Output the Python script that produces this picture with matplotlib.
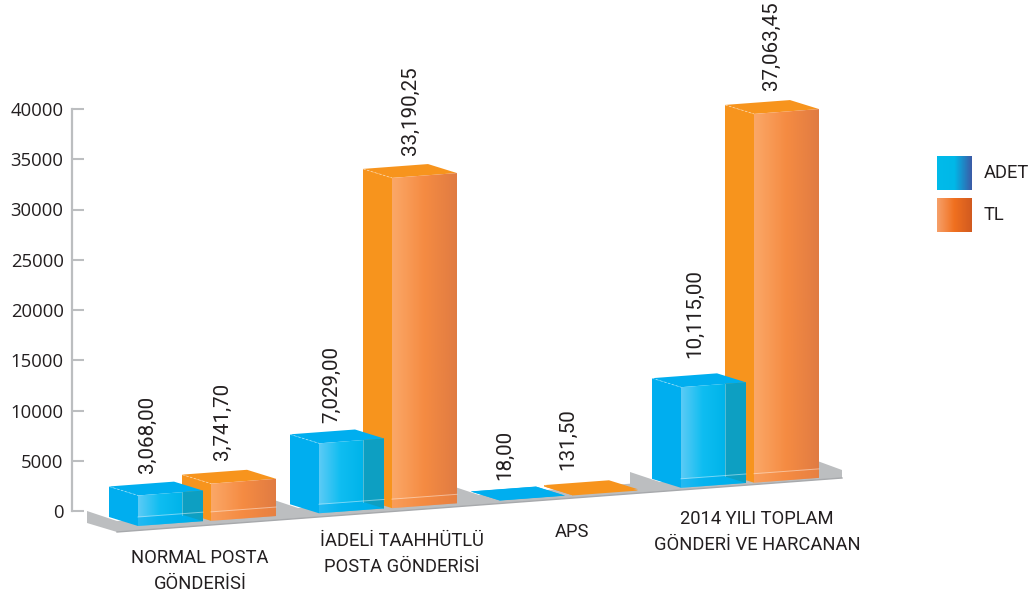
import numpy as np
import matplotlib
matplotlib.use("Agg")
import matplotlib.pyplot as plt
from matplotlib.colors import LinearSegmentedColormap
from matplotlib.patches import Polygon

# chart data
categories = ["NORMAL POSTA\nGÖNDERİSİ", "İADELİ TAAHHÜTLÜ\nPOSTA GÖNDERİSİ", "APS",
              "2014 YILI TOPLAM\nGÖNDERİ VE HARCANAN"]
adet = [3068.00, 7029.00, 18.00, 10115.00]
tl = [3741.70, 33190.25, 131.50, 37063.45]
adet_labels = ["3,068,00", "7,029,00", "18,00", "10,115,00"]
tl_labels = ["3,741,70", "33,190,25", "131,50", "37,063,45"]
y_ticks = [0, 5000, 10000, 15000, 20000, 25000, 30000, 35000, 40000]
legend_names = ["ADET", "TL"]

W, H = 1034, 599
ZERO_PX = 511      # pixel row of value 0 on the axis
PX_PER_UNIT = 402 / 40000
BAR_PX = 0.00995   # bars are a bit shorter than the axis scale
FONT = "Roboto"
INK = "#231f20"

fig = plt.figure(figsize=(W / 100, H / 100), dpi=100)
ax = fig.add_axes([0, 0, 1, 1])


def to_val(py):
    # pixel row to value units, the y axis is in values
    return (ZERO_PX - py) / PX_PER_UNIT


def pts(*pairs):
    return [(x, to_val(y)) for x, y in pairs]


def gradient(poly, stops, x0, x1, y0, y1, zorder):
    cmap = LinearSegmentedColormap.from_list("g", stops)
    im = ax.imshow(np.linspace(0, 1, 256).reshape(1, -1), cmap=cmap, aspect="auto",
                   extent=(x0, x1, to_val(y1), to_val(y0)), zorder=zorder)
    patch = Polygon(poly, transform=ax.transData, fc="none", ec="none")
    ax.add_patch(patch)
    im.set_clip_path(patch)


def bar3d(x, value, side, top, front, band, band_alpha, z, inner=None):
    # x = front left corner of the bar, the floor rises to the right
    w, dx, dy = 65, -29, -9
    y = 526 - 0.0703 * (x - 138)
    rise = -0.0745 * w
    h = value * BAR_PX
    # left side
    ax.add_patch(Polygon(pts((x, y), (x + dx, y + dy), (x + dx, y + dy - h), (x, y - h)),
                         fc=side, ec="none", zorder=z))
    # top
    ax.add_patch(Polygon(pts((x, y - h), (x + dx, y + dy - h), (x + dx + w, y + dy + rise - h),
                             (x + w, y + rise - h)), fc=top, ec="none", zorder=z + 0.1))
    if h < 3:
        # flat bar, only the side needs closing
        ax.add_patch(Polygon(pts((x, y), (x + dx, y + dy), (x + dx + w, y + dy + rise), (x + w, y + rise)),
                             fc=top, ec="none", zorder=z + 0.1))
        return
    # front with gradient
    front_poly = pts((x, y), (x + w, y + rise), (x + w, y + rise - h), (x, y - h))
    gradient(front_poly, front, x, x + w, y - h - 6, y + 1, z + 0.2)
    # see-through floor band along the bottom of the front
    ax.add_patch(Polygon(pts((x, y), (x + w, y + rise), (x + w, y + rise - 9), (x, y - 9)),
                         fc=band, alpha=band_alpha, ec="none", zorder=z + 0.3))
    ax.plot([x, x + w], [to_val(y - 9), to_val(y + rise - 9)], color="white", alpha=0.45, lw=0.7, zorder=z + 0.5)
    if inner:
        # where the next bar's side shows through the front
        ax.add_patch(Polygon(pts((x + 44, y + rise - 6.5), (x + w, y + rise), (x + w, y + rise - h),
                                 (x + 44, y + rise * 44 / 65 - h)), fc=inner, ec="none", zorder=z + 0.4))
        ax.plot([x + 44, x + 44], [to_val(y + rise - 6.5), to_val(y + rise * 44 / 65 - h)],
                color="white", alpha=0.35, lw=0.6, zorder=z + 0.5)
    ax.plot([x + dx, x], [to_val(y + dy - h), to_val(y - h)],
            color="white", alpha=0.45, lw=0.6, ls=(0, (3, 2)), zorder=z + 0.5)


# floor, each group has its own slab so the back edge is a saw tooth
floor = [(87, 511)]
for i in range(3):
    fx, fy = 117 + 181 * i, 521 - 13 * i
    floor += [(fx, fy), (268 + 181 * i, fy - 11.3), (268 + 181 * i, 498 - 13 * i)]
floor += [(660, 482), (812, 459), (842, 470), (842, 478), (117, 532), (87, 523)]
ax.add_patch(Polygon(pts(*floor), fc="#bcbec0", ec="none", zorder=1))
ax.plot([117, 842], [to_val(532), to_val(478)], color="#a7a9ac", lw=1, zorder=1.5)

blue = dict(side="#00aeef", top="#00aeef", front=["#5ccbf6", "#0fbdf1", "#00b4ea", "#00aee0"],
            inner="#0d9fc2", band="#00aeef", band_alpha=0.6)
orange = dict(side="#f7941d", top="#f7941d", front=["#fba868", "#f58b42", "#e07b42"],
              band="#f58b42", band_alpha=0.35)

# value label positions, pixels: x centre and lower end of the rotated text
adet_x = [147, 332, 505, 695]
adet_y = [473, 423, 480, 358]
tl_x = [222, 410, 568, 771]
tl_y = [460, 155, 470, 90]

for i in range(len(categories)):
    xa = 138 + 181 * i
    xt = xa + 73
    bar3d(xt, tl[i], z=3 + i * 4, **orange)
    bar3d(xa, adet[i], z=5 + i * 4, **blue)
    ax.text(adet_x[i], to_val(adet_y[i]), adet_labels[i], rotation=90,
            ha="center", va="bottom", fontsize=14.8, family=FONT, color=INK)
    ax.text(tl_x[i], to_val(tl_y[i]), tl_labels[i], rotation=90,
            ha="center", va="bottom", fontsize=14.8, family=FONT, color=INK)

# category labels
label_xy = [(200, 571), (402, 554), (572, 532), (757, 532)]
for name, (lx, ly) in zip(categories, label_xy):
    ax.text(lx, to_val(ly), name, ha="center", va="center", fontsize=13.2, linespacing=1.6,
            family=FONT, color=INK)

# legend
legend_stops = [["#00bbea", "#00b8e8", "#3c5aa6"], ["#f6a06a", "#f0701f", "#d15a20"]]
for i, name in enumerate(legend_names):
    top_px = 156 + 42 * i
    box = pts((937, top_px), (972, top_px), (972, top_px + 34), (937, top_px + 34))
    gradient(box, legend_stops[i], 937, 972, top_px, top_px + 34, 30)
    ax.text(984, to_val(top_px + 17), name, va="center", ha="left", fontsize=13.2,
            family=FONT, color=INK)

ax.set_xlim(0, W)
ax.set_ylim(to_val(H), to_val(0))
ax.set_xticks([])
ax.set_yticks(y_ticks)
for s in ["top", "right", "bottom"]:
    ax.spines[s].set_visible(False)
ax.spines["left"].set_position(("data", 72))
ax.spines["left"].set_bounds(0, 40000)
ax.spines["left"].set_color("#bcbec0")
ax.spines["left"].set_linewidth(1.6)
ax.tick_params(axis="y", direction="in", length=8.5, width=1.5, color="#bcbec0", pad=6,
               labelsize=13.3, labelcolor=INK)
for t in ax.get_yticklabels():
    t.set_family("Open Sans")
ax.patch.set_visible(False)

fig.savefig("out.png", dpi=100)
